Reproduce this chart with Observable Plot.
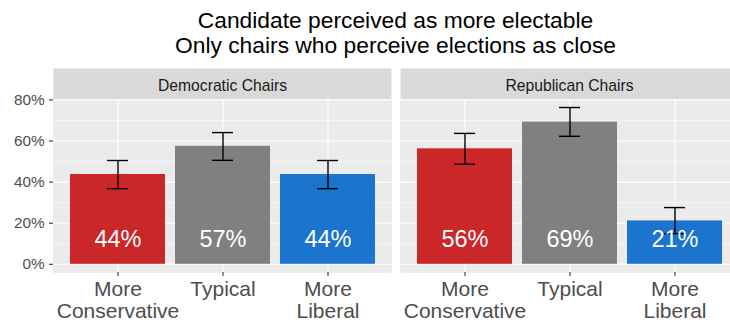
<!DOCTYPE html>
<html>
<head>
<meta charset="utf-8">
<script src="https://cdn.jsdelivr.net/npm/d3@7"></script>
<script src="https://cdn.jsdelivr.net/npm/@observablehq/plot@0.6"></script>
<style>
  html, body { margin: 0; padding: 0; background: #fff; overflow: hidden; }
  #wrap { width: 730px; height: 322px; overflow: hidden; position: relative; font-family: "Liberation Sans", Arial, Helvetica, sans-serif; }
  #title { position: absolute; left: 53px; top: 0; width: 685px; text-align: center; font-size: 22.8px; line-height: 25px; color: #000; white-space: nowrap; padding-top: 8px; }
  #chart { position: absolute; left: 0; top: 60px; width: 740px; }
  #chart svg { max-width: none !important; overflow: visible; }
</style>
</head>
<body>
<div id="wrap">
  <div id="title">Candidate perceived as more electable<br>Only chairs who perceive elections as close</div>
  <div id="chart"></div>
</div>
<script>
const chairs = ["Democratic Chairs", "Republican Chairs"];
const categories = ["More Conservative", "Typical", "More Liberal"];
const categoryLabels = ["More\nConservative", "Typical", "More\nLiberal"];
const colors = ["#CB2628", "#808080", "#1B74CE"];
const demValues = [0.437, 0.574, 0.437];
const demLow = [0.368, 0.506, 0.368];
const demHigh = [0.505, 0.641, 0.505];
const repValues = [0.562, 0.692, 0.211];
const repLow = [0.487, 0.623, 0.149];
const repHigh = [0.637, 0.763, 0.276];
const yTicks = [0, 0.2, 0.4, 0.6, 0.8];
const yMinorTicks = [0.1, 0.3, 0.5, 0.7];

const rows = [];
[[demValues, demLow, demHigh], [repValues, repLow, repHigh]].forEach(([v, lo, hi], i) => {
  categories.forEach((c, j) => {
    rows.push({chair: chairs[i], category: c, value: v[j], low: lo[j], high: hi[j],
               label: Math.round(v[j] * 100) + "%"});
  });
});

const font = "'Liberation Sans', Arial, Helvetica, sans-serif";
const chart = Plot.plot({
  width: 740,
  height: 262,
  marginLeft: 53,
  marginRight: 2,
  marginTop: 39,
  marginBottom: 50,
  style: {fontFamily: font, background: "transparent", maxWidth: "none", overflow: "visible"},
  fx: {domain: chairs, paddingInner: 0.026, paddingOuter: 0, label: null},
  x: {domain: categories, paddingInner: 0.1, paddingOuter: 0.15, label: null},
  y: {domain: [-0.04, 0.802], label: null},
  color: {domain: categories, range: colors},
  marks: [
    Plot.frame({fill: "#D9D9D9", insetTop: -31}),
    Plot.frame({fill: "#EBEBEB"}),
    Plot.gridY(yMinorTicks, {stroke: "#fff", strokeOpacity: 1, strokeWidth: 0.55}),
    Plot.gridY(yTicks, {stroke: "#fff", strokeOpacity: 1, strokeWidth: 1.1}),
    Plot.gridX({stroke: "#fff", strokeOpacity: 1, strokeWidth: 1.1}),
    Plot.barY(rows, {fx: "chair", x: "category", y: "value", fill: "category"}),
    Plot.ruleX(rows, {fx: "chair", x: "category", y1: "low", y2: "high", stroke: "#000", strokeWidth: 1.4}),
    Plot.tickY(rows, {fx: "chair", x: "category", y: "low", stroke: "#000", strokeWidth: 1.4, insetLeft: 37, insetRight: 37}),
    Plot.tickY(rows, {fx: "chair", x: "category", y: "high", stroke: "#000", strokeWidth: 1.4, insetLeft: 37, insetRight: 37}),
    Plot.text(rows, {fx: "chair", x: "category", text: "label", frameAnchor: "bottom", lineAnchor: "bottom", dy: -26, fill: "#fff", fontSize: 23.5}),
    Plot.axisY({ticks: yTicks, tickFormat: d => Math.round(d * 100) + "%", tickSize: 4, tickPadding: 5, fontSize: 15.3, stroke: "#333", fill: "#4D4D4D", strokeWidth: 1.1, label: null}),
    Plot.axisX({tickSize: 4, tickPadding: 4, fontSize: 21, lineHeight: 1.04, stroke: "#333", fill: "#4D4D4D", strokeWidth: 1.1, tickFormat: d => categoryLabels[categories.indexOf(d)], label: null}),
    Plot.axisFx({anchor: "top", tickSize: 0, tickPadding: 9, fontSize: 15.7, fill: "#1A1A1A", label: null})
  ]
});
document.getElementById("chart").appendChild(chart);
</script>
</body>
</html>
